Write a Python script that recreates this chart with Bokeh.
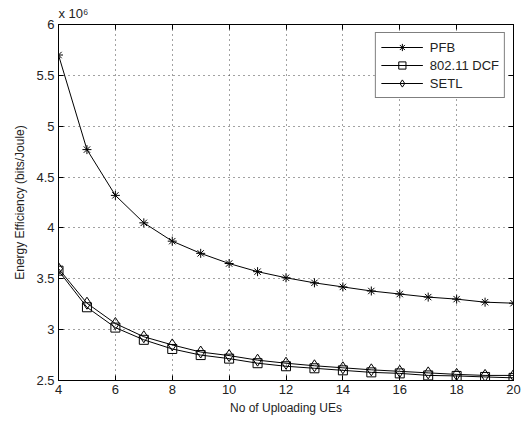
from bokeh.plotting import figure
from bokeh.models import Range1d, Legend, LegendItem, LinearAxis, FixedTicker
from bokeh.embed import file_html
from bokeh.resources import INLINE

# Data (energy efficiency in units of 1e6 bits/Joule)
ues = [4, 5, 6, 7, 8, 9, 10, 11, 12, 13, 14, 15, 16, 17, 18, 19, 20]
pfb = [5.70, 4.77, 4.32, 4.05, 3.87, 3.75, 3.65, 3.57, 3.51, 3.46, 3.42, 3.38, 3.35, 3.32, 3.30, 3.27, 3.26]
dcf = [3.58, 3.22, 3.02, 2.90, 2.81, 2.75, 2.715, 2.67, 2.64, 2.62, 2.60, 2.58, 2.57, 2.55, 2.545, 2.535, 2.526]
setl = [3.60, 3.26, 3.06, 2.93, 2.85, 2.78, 2.745, 2.70, 2.67, 2.645, 2.625, 2.605, 2.59, 2.575, 2.56, 2.55, 2.55]
x_ticks = [4, 6, 8, 10, 12, 14, 16, 18, 20]
y_ticks = [2.5, 3, 3.5, 4, 4.5, 5, 5.5, 6]
series_names = ["PFB", "802.11 DCF", "SETL"]

FONT = "Liberation Sans"

p = figure(width=528, height=424, output_backend="svg", toolbar_location=None,
           x_range=Range1d(4, 20), y_range=Range1d(2.5, 6),
           min_border_left=58, min_border_right=15, min_border_top=0, min_border_bottom=44)

p.title.text = "x 10\u2076"
p.title.align = "left"
p.title.text_font = FONT
p.title.text_font_size = "13px"
p.title.text_font_style = "normal"
p.title.text_color = "#222222"
p.title.standoff = 7
p.title.offset = 0

p.background_fill_color = "white"
p.border_fill_color = "white"
p.outline_line_color = "black"
p.outline_line_width = 1

p.xaxis.ticker = FixedTicker(ticks=x_ticks)
p.yaxis.ticker = FixedTicker(ticks=y_ticks)
p.xaxis.axis_label = "No of Uploading UEs"
p.yaxis.axis_label = "Energy Efficiency (bits/Joule)"
for ax in [p.xaxis[0], p.yaxis[0]]:
    ax.axis_label_text_font = FONT
    ax.axis_label_text_font_size = "12px"
    ax.axis_label_text_font_style = "normal"
    ax.axis_label_text_color = "#222222"
    ax.major_label_text_font = FONT
    ax.major_label_text_font_size = "13px"
    ax.major_label_text_color = "#222222"
    ax.axis_line_color = "black"
    ax.major_tick_in = 5
    ax.major_tick_out = 0
    ax.minor_tick_line_color = None
    ax.major_tick_line_color = "black"
p.xaxis.axis_label_standoff = 4
p.yaxis.axis_label_standoff = 6
p.yaxis.major_label_standoff = 4
p.xaxis.major_label_standoff = 4

# Mirror ticks on top and right (Matlab box), without labels
rax = LinearAxis(ticker=FixedTicker(ticks=y_ticks),
                 major_label_overrides={t: "" for t in y_ticks},
                 major_tick_in=5, major_tick_out=0, minor_tick_line_color=None,
                 axis_line_color="black", major_label_standoff=0)
tax = LinearAxis(ticker=FixedTicker(ticks=x_ticks),
                 major_label_overrides={t: "" for t in x_ticks},
                 major_tick_in=5, major_tick_out=0, minor_tick_line_color=None,
                 axis_line_color="black", major_label_standoff=0)
p.add_layout(rax, "right")
p.add_layout(tax, "above")

p.grid.grid_line_color = "#444444"
p.grid.grid_line_dash = "1 4"
p.grid.grid_line_width = 1

l1 = p.line(ues, pfb, line_color="black", line_width=1)
m1 = p.scatter(ues, pfb, marker="asterisk", size=9, line_color="black", line_width=1)
l2 = p.line(ues, dcf, line_color="black", line_width=1)
m2 = p.scatter(ues, dcf, marker="square", size=9, line_color="black", fill_color=None, line_width=1)
l3 = p.line(ues, setl, line_color="black", line_width=1)
m3 = p.scatter(ues, setl, marker="diamond", size=12, line_color="black", fill_color=None, line_width=1)

legend = Legend(items=[
    LegendItem(label=series_names[0], renderers=[l1, m1]),
    LegendItem(label=series_names[1], renderers=[l2, m2]),
    LegendItem(label=series_names[2], renderers=[l3, m3]),
], location="top_right")
legend.label_text_font = FONT
legend.label_text_font_size = "13px"
legend.label_text_color = "#222222"
legend.border_line_color = "black"
legend.border_line_width = 1
legend.background_fill_alpha = 1
legend.glyph_width = 42
legend.glyph_height = 18
legend.spacing = 0
legend.padding = 5
legend.margin = 8
legend.label_standoff = 7
p.add_layout(legend)

open("out.html", "w").write(file_html(p, INLINE))
